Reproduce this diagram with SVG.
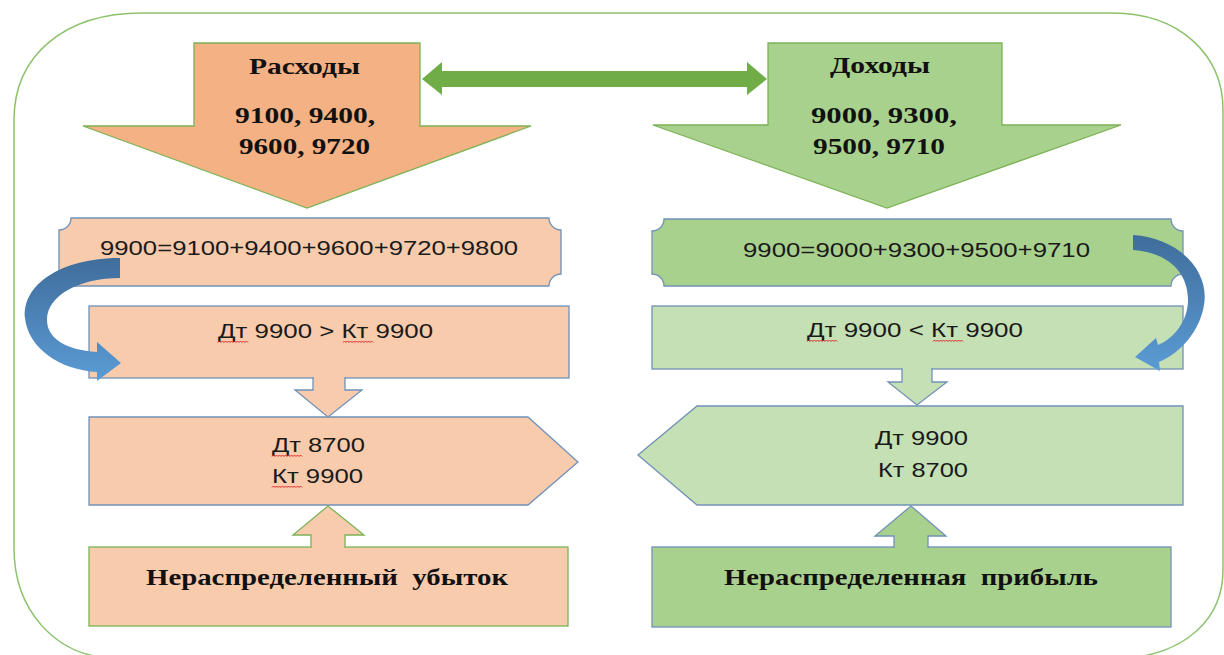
<svg xmlns="http://www.w3.org/2000/svg" width="1224" height="655" viewBox="0 0 1224 655">
<defs>
<style>
.frame{fill:none;stroke:#8cc26c;stroke-width:1.5}
.gstroke{stroke:#7cb356;stroke-width:1.3}
.bstroke{stroke:#7191b8;stroke-width:1.3}
.orange{fill:#f4b183}
.peach{fill:#f8cbad}
.green{fill:#a9d18e}
.lgreen{fill:#c5e0b4}
.tb{font-family:"Liberation Serif","Times New Roman",serif;font-weight:bold;font-size:24px;fill:#111}
.tc{font-family:"Liberation Sans",Arial,sans-serif;font-size:20px;fill:#1a1a1a}
.wave{fill:none;stroke:#e0262a;stroke-width:1}
</style>
<linearGradient id="blueV" x1="0" y1="0" x2="0" y2="1">
<stop offset="0" stop-color="#3f6d9b"/>
<stop offset="1" stop-color="#5b9bd5"/>
</linearGradient>
<path id="wv" d="M0,1.5 l1.5,-1.5 l1.5,1.5 l1.5,-1.5 l1.5,1.5 l1.5,-1.5 l1.5,1.5 l1.5,-1.5 l1.5,1.5 l1.5,-1.5 l1.5,1.5 l1.5,-1.5 l1.5,1.5 l1.5,-1.5 l1.5,1.5 l1.5,-1.5 l1.5,1.5 l1.5,-1.5 l1.5,1.5 l1.5,-1.5 l1.5,1.5"/>
</defs>

<g id="frame">
<path class="frame" d="M14,120 C14,55 65,13 142,13 L1112,13 C1180,13 1223,55 1223,110 L1223,570 C1223,620 1185,652 1130,658 L110,658 C55,655 14,610 14,548 Z"/>
</g>

<g id="expenses">
<path class="orange gstroke" d="M194,43 L420,43 L420,126 L531,126 L307,208 L83,126 L194,126 Z"/>
<text class="tb" x="249" y="74" textLength="111" lengthAdjust="spacingAndGlyphs">Расходы</text>
<text class="tb" x="235" y="123" textLength="140" lengthAdjust="spacingAndGlyphs">9100, 9400,</text>
<text class="tb" x="239" y="154" textLength="131" lengthAdjust="spacingAndGlyphs">9600, 9720</text>
</g>

<g id="income">
<path class="green gstroke" d="M768,43 L1002,43 L1002,125 L1121,125 L887,208 L653,125 L768,125 Z"/>
<text class="tb" x="830" y="73" textLength="100" lengthAdjust="spacingAndGlyphs">Доходы</text>
<text class="tb" x="811" y="123" textLength="146" lengthAdjust="spacingAndGlyphs">9000, 9300,</text>
<text class="tb" x="813" y="154" textLength="132" lengthAdjust="spacingAndGlyphs">9500, 9710</text>
</g>

<g id="sum-left">
<path class="peach bstroke" d="M71,218 L549,218 A12,12 0 0 0 561,230 L561,274 A12,12 0 0 0 549,286 L71,286 A12,12 0 0 0 59,274 L59,230 A12,12 0 0 0 71,218 Z"/>
<text class="tc" x="100" y="255" textLength="418" lengthAdjust="spacingAndGlyphs">9900=9100+9400+9600+9720+9800</text>
</g>

<g id="sum-right">
<path class="green bstroke" d="M664,219 L1171,219 A12,12 0 0 0 1183,231 L1183,274 A12,12 0 0 0 1171,286 L664,286 A12,12 0 0 0 652,274 L652,231 A12,12 0 0 0 664,219 Z"/>
<text class="tc" x="743" y="257" textLength="347" lengthAdjust="spacingAndGlyphs">9900=9000+9300+9500+9710</text>
</g>

<g id="compare-left">
<rect class="peach bstroke" x="89" y="306" width="480" height="72"/>
<text class="tc" x="218" y="338" textLength="215" lengthAdjust="spacingAndGlyphs">Дт 9900 &gt; Кт 9900</text>
<use href="#wv" class="wave" x="218" y="341"/>
<use href="#wv" class="wave" x="343" y="341"/>
</g>

<g id="compare-right">
<rect class="lgreen bstroke" x="652" y="306" width="531" height="63"/>
<text class="tc" x="807" y="337" textLength="216" lengthAdjust="spacingAndGlyphs">Дт 9900 &lt; Кт 9900</text>
<use href="#wv" class="wave" x="807" y="340"/>
<use href="#wv" class="wave" x="933" y="340"/>
</g>

<g id="entry-left">
<path class="peach bstroke" d="M89,417 L528,417 L578,462 L528,505 L89,505 Z"/>
<text class="tc" x="272" y="452" textLength="93" lengthAdjust="spacingAndGlyphs">Дт 8700</text>
<text class="tc" x="272" y="483" textLength="91" lengthAdjust="spacingAndGlyphs">Кт 9900</text>
<use href="#wv" class="wave" x="272" y="455"/>
<use href="#wv" class="wave" x="272" y="486"/>
</g>

<g id="entry-right">
<path class="lgreen bstroke" d="M697,406 L1183,406 L1183,505 L697,505 L638,455 Z"/>
<text class="tc" x="875" y="445" textLength="93" lengthAdjust="spacingAndGlyphs">Дт 9900</text>
<text class="tc" x="878" y="477" textLength="90" lengthAdjust="spacingAndGlyphs">Кт 8700</text>
</g>

<g id="loss">
<rect class="peach gstroke" x="89" y="547" width="479" height="79"/>
<text class="tb" x="146" y="585" textLength="362" lengthAdjust="spacingAndGlyphs" xml:space="preserve">Нераспределенный  убыток</text>
</g>

<g id="profit">
<rect class="green bstroke" x="652" y="547" width="519" height="80"/>
<text class="tb" x="724" y="585" textLength="374" lengthAdjust="spacingAndGlyphs" xml:space="preserve">Нераспределенная  прибыль</text>
</g>

<g id="connectors">
<path fill="#70ad47" d="M422,79 L442,62 L442,71 L747,71 L747,62 L767,79 L747,95 L747,87 L442,87 L442,95 Z"/>
<path class="peach bstroke" d="M313,377 L313,390 L295,390 L328,417 L362,390 L345,390 L345,377"/>
<path class="lgreen bstroke" d="M902,368 L902,382 L888,382 L917,405 L947,382 L932,382 L932,368"/>
<path class="peach gstroke" d="M311,548 L311,535 L293,535 L328,506 L364,535 L345,535 L345,548"/>
<path class="green bstroke" d="M894,548 L894,536 L875,536 L911,506 L946,536 L928,536 L928,548"/>
<path fill="url(#blueV)" d="M120,258 C60,258 22,285 25,318 C28,348 60,370 97,372 L97,381 L121,363 L97,342 L97,352 C65,350 47,338 47,320 C47,295 80,278 120,278 Z"/>
<path fill="url(#blueV)" d="M1133,235 C1180,238 1210,272 1204,305 C1200,330 1182,352 1159,362 L1160,371 L1135,357 L1156,338 L1158,345 C1175,338 1188,320 1188,300 C1188,270 1165,252 1133,250 Z"/>
</g>
</svg>
